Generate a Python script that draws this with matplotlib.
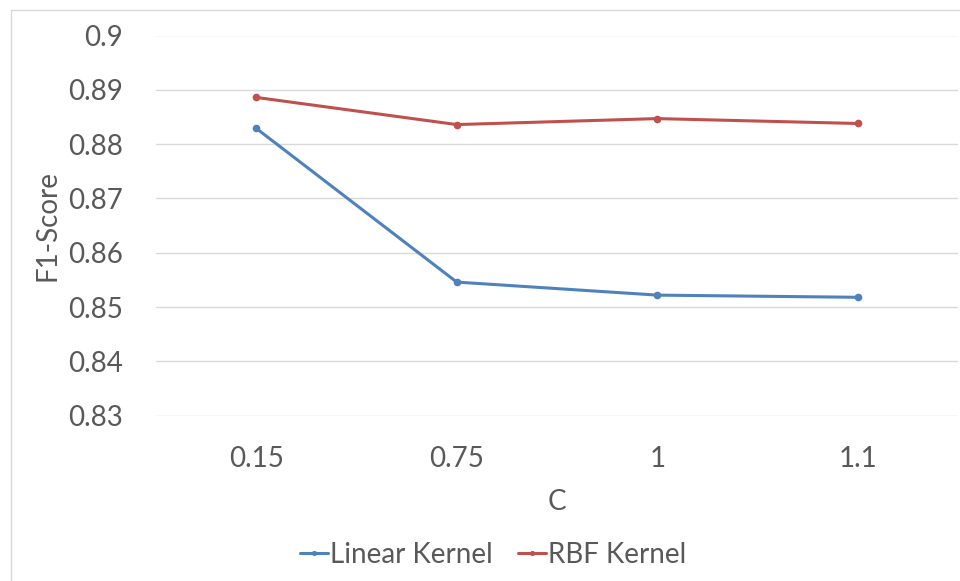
import matplotlib
matplotlib.use("Agg")
import matplotlib.pyplot as plt
from matplotlib.patches import Rectangle

categories = ["0.15", "0.75", "1", "1.1"]
linear_kernel = [0.8829, 0.8546, 0.8522, 0.8518]
rbf_kernel = [0.8886, 0.8836, 0.8847, 0.8838]
y_ticks = [0.83, 0.84, 0.85, 0.86, 0.87, 0.88, 0.89, 0.9]
y_labels = ["0.83", "0.84", "0.85", "0.86", "0.87", "0.88", "0.89", "0.9"]

plt.rcParams['font.family'] = ['Lato', 'DejaVu Sans']
TXT = '#595959'
FS = 20

fig = plt.figure(figsize=(9.6, 5.81), dpi=100)
fig.patches.append(Rectangle((10.5/960, -0.2), 1.2, 1.2 - 9.5/581, transform=fig.transFigure,
                             fill=False, edgecolor='#D9D9D9', linewidth=1.0))
ax = fig.add_axes([156/960, 1 - 415.7/581, (958 - 156)/960, (415.7 - 35.5)/581])

x = list(range(len(categories)))
ax.plot(x, linear_kernel, color='#4F81BD', linewidth=2.2, marker='o', markersize=4.5,
        label='Linear Kernel', solid_capstyle='round')
ax.plot(x, rbf_kernel, color='#C0504D', linewidth=2.2, marker='o', markersize=4.5,
        label='RBF Kernel', solid_capstyle='round')

ax.set_xlim(-0.5, len(categories) - 0.5)
ax.set_ylim(0.83, 0.9)
ax.set_yticks(y_ticks)
ax.set_yticklabels(y_labels)
ax.set_xticks(x)
ax.set_xticklabels(categories)
ax.grid(axis='y', color='#D9D9D9', linewidth=1.0)
ax.set_axisbelow(True)
for s in ax.spines.values():
    s.set_visible(False)
ax.tick_params(axis='both', length=0, labelsize=FS, labelcolor=TXT)
ax.tick_params(axis='y', pad=24)
ax.tick_params(axis='x', pad=22)
ax.set_xlabel('C', fontsize=FS, color=TXT, labelpad=12)
ax.set_ylabel('F1-Score', fontsize=FS, color=TXT, labelpad=5)

leg = fig.legend(loc='center', bbox_to_anchor=(493/960, 1 - 555/581), ncol=2, frameon=False,
                 fontsize=FS, handlelength=1.0, handletextpad=0.08, columnspacing=0.9,
                 labelcolor=TXT, markerscale=0.6)

fig.savefig('out.png', dpi=100)
